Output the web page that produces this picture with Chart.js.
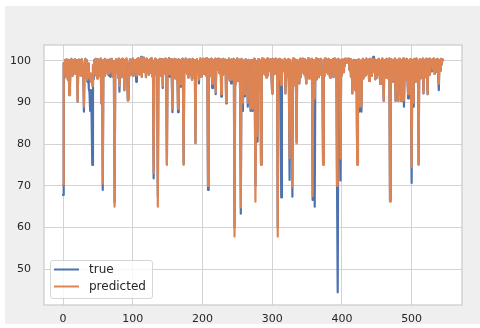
<!DOCTYPE html>
<html>
<head>
<meta charset="utf-8">
<script src="https://cdn.jsdelivr.net/npm/chart.js@4/dist/chart.umd.min.js"></script>
<style>
  html, body { margin: 0; padding: 0; background: #ffffff; }
  #wrap { position: relative; width: 480px; height: 328px; }
  canvas { display: block; }
</style>
</head>
<body>
<div id="wrap"><canvas id="c" width="480" height="328"></canvas></div>
<script>
const seriesNames = ['true', 'predicted'];
const xTicks = [0, 100, 200, 300, 400, 500];
const yTicks = [50, 60, 70, 80, 90, 100];

const trueVals = [
  67.8, 99.5, 95.8, 100.2, 96.5, 100.4, 97, 95.5, 100.3, 91.8,
  94, 99.8, 100.5, 96.5, 98.2, 100.1, 97.2, 100.4, 96.9, 100.2,
  99.5, 90.2, 99.8, 100.3, 96.6, 100, 96.5, 100.4, 97.2, 97.8,
  87.8, 99.6, 100.5, 96, 100.2, 95, 99.4, 93.4, 92.5, 88,
  93, 87, 75, 99, 95.6, 100.3, 96.7, 100.5, 97.2, 95.8,
  100.4, 96.3, 100.1, 97.2, 100.6, 89.8, 99.5, 69, 100.2, 96.4,
  100.5, 97.6, 99.9, 100.3, 96.8, 100.1, 96.5, 100.4, 96.2, 99.7,
  100.5, 96.2, 100, 97.1, 66, 99.8, 100.4, 97.5, 100.2, 96,
  100.6, 92.6, 99.6, 100.3, 96.1, 100.5, 97.4, 99.8, 93, 100.2,
  97.3, 100.6, 95.9, 90.5, 90.6, 99.7, 100.4, 96.6, 100.1, 97.5,
  100.6, 96.4, 100.2, 97.8, 99.9, 95, 100.4, 97, 100.7, 96.8,
  100.3, 97.6, 101, 96.2, 100.5, 97.4, 100.8, 97.4, 100.3, 96.1,
  100.6, 98.5, 100.2, 96.7, 97.6, 100.4, 97.2, 100.7, 96.3, 99.9,
  71.8, 99.4, 100.5, 96.8, 100.1, 97, 67.5, 100.3, 96.6, 100.5,
  96.5, 99.8, 100.4, 93.5, 100.2, 97.3, 97, 100.6, 96.1, 75.2,
  100.3, 97.5, 100.7, 96.2, 99.8, 100.4, 95.8, 87.7, 100.2, 96.1,
  100.5, 95.8, 99.7, 100.3, 97.2, 87.7, 100.4, 96.9, 100.1, 93.8,
  99.6, 100.5, 96.4, 75.3, 100.2, 97.4, 100.6, 97.7, 96.9, 100.3,
  96, 100.4, 96.8, 100.1, 97.3, 95.5, 100.5, 96, 99.7, 100.2,
  80.3, 99.8, 100.4, 97.5, 100, 94.6, 99.5, 100.6, 96.3, 100.2,
  97.1, 100.5, 96.9, 99.8, 100.3, 96.5, 100.7, 97.2, 69, 100.4,
  97.8, 100.1, 96.4, 100.6, 93.5, 99.7, 100.2, 96.4, 100.5, 92,
  99.6, 100.3, 98, 100.6, 97.1, 99.9, 100.4, 91.4, 100.1, 96.6,
  100.5, 97, 99.8, 100.3, 89.8, 100.2, 96.9, 96, 100.6, 95.3,
  100.1, 94.6, 100.4, 95.9, 99.7, 100.5, 60, 100.2, 94.4, 99.9,
  100.6, 95.2, 99.4, 100.3, 93.3, 63.3, 100.5, 94, 88, 100.1,
  96.6, 91.5, 100.4, 96, 99.8, 89, 100.3, 93.5, 93, 88,
  100.2, 95.4, 88, 99.6, 100.5, 94.2, 70, 99.9, 92.8, 80.6,
  100.4, 96.2, 93.6, 100.1, 75.2, 99.5, 100.6, 97.4, 100.5, 96.8,
  100.2, 97.4, 96, 100.6, 96.5, 99.9, 100.3, 97.6, 100.4, 96.1,
  92.2, 100.5, 96.7, 100.1, 97.6, 100.6, 96.9, 99.8, 60, 100.4,
  96.2, 100.5, 95.8, 67.2, 100.3, 97.5, 99.7, 98, 100.5, 92.2,
  100.1, 96.3, 99.6, 100.4, 93.8, 71.4, 100.2, 95, 99.5, 67.4,
  100.6, 95.9, 94.2, 100.3, 96.5, 80.5, 100.1, 96.6, 99.9, 94.6,
  100.5, 96.1, 100.2, 97.3, 100.6, 97.2, 96.8, 100.4, 96.6, 94.6,
  100.1, 97.5, 100.7, 95.8, 99.6, 100.3, 96.2, 100.5, 66.6, 99.7,
  100.2, 65, 99.4, 100.6, 95.6, 99.9, 100.4, 96.1, 100.2, 96.8,
  100.5, 97.2, 96.9, 75.3, 100.3, 96.4, 100.6, 97.3, 99.8, 100.1,
  96.9, 100.5, 97.4, 96, 100.2, 97.7, 99.6, 100.4, 96.1, 100.6,
  96.8, 99.7, 100.3, 71, 44.4, 100.5, 97.9, 99.8, 71.3, 100.2,
  96.5, 100.4, 97.3, 100.1, 98.8, 100.6, 100.4, 99.6, 100.5, 100.2,
  100.6, 97.8, 100.4, 96.2, 100.1, 92.2, 99.5, 100.3, 95.4, 93,
  100.2, 96.6, 75.3, 99.9, 100.4, 87.8, 96.5, 100.1, 87.8, 99.7,
  100.5, 95.8, 99.4, 100.2, 96.5, 100.6, 96.9, 97.8, 100.3, 95.2,
  100.5, 97.1, 100.2, 96.4, 100.6, 101, 97.3, 100.4, 95.6, 99.9,
  96, 100.3, 96.8, 100.5, 97.2, 94.5, 100.1, 95.4, 100.6, 97.5,
  90.4, 100.2, 96.1, 99.8, 100.5, 95.9, 100.3, 96.7, 100.6, 66.5,
  99.7, 100.4, 95.3, 95, 100.2, 96.9, 100.6, 90.4, 99.5, 100.3,
  95.9, 90.4, 100.5, 96.4, 99.9, 90.4, 100.2, 96.8, 100.6, 89,
  97.4, 100.3, 95.6, 100.5, 96.2, 91, 100.1, 97.6, 100.4, 95.5,
  70.7, 100.2, 89, 99.8, 100.5, 95, 97.3, 100.6, 96.4, 100.1,
  75.2, 99.7, 100.4, 95.8, 100.2, 97, 100.6, 92.2, 99.5, 100.3,
  96.1, 100.5, 97.2, 92, 100.4, 96.7, 100.6, 97.5, 100.2, 97.5,
  100.4, 97.8, 100.6, 96.9, 97.5, 100.3, 97.4, 100.5, 96.6, 93,
  100.2, 97.7, 100.5, 99.1, 100.4, 100.2
];

const predictedVals = [
  70.3, 99.5, 97, 100.2, 96.5, 100.4, 97, 95.5, 100.3, 91.8,
  94, 99.8, 100.5, 96.5, 98.2, 100.1, 97.2, 100.4, 96.9, 100.2,
  99.5, 90.2, 99.8, 100.3, 96.6, 100, 96.5, 100.4, 97.2, 97.8,
  89, 99.6, 100.5, 96, 100.2, 95.5, 99.4, 97, 96, 97,
  95, 96.5, 94, 99, 97, 100.3, 96.7, 100.5, 97.2, 95.8,
  100.4, 96.3, 100.1, 97.2, 100.6, 89.8, 99.5, 70.5, 100.2, 96.4,
  100.5, 97.6, 99.9, 100.3, 96.8, 100.1, 97, 100.4, 97.5, 99.7,
  100.5, 96.2, 100, 97.1, 65, 99.8, 100.4, 97.5, 100.2, 96,
  100.6, 94, 99.6, 100.3, 96.1, 100.5, 97.4, 99.8, 93, 100.2,
  97.3, 100.6, 95.9, 90.5, 91.5, 99.7, 100.4, 96.6, 100.1, 97.5,
  100.6, 96.4, 100.2, 97.8, 99.9, 96.5, 100.4, 97, 100.7, 96.8,
  100.3, 97.6, 100.8, 96.2, 100.5, 97.4, 100.8, 98.5, 100.3, 96.1,
  100.6, 98.5, 100.2, 96.7, 97.6, 100.4, 97.2, 100.7, 96.3, 99.9,
  73, 99.4, 100.5, 96.8, 100.1, 97, 65, 100.3, 96.6, 100.5,
  96.5, 99.8, 100.4, 94, 100.2, 97.3, 97, 100.6, 96.1, 75,
  100.3, 97.5, 100.7, 96.8, 99.8, 100.4, 95.8, 88.5, 100.2, 96.1,
  100.5, 95.8, 99.7, 100.3, 97.2, 88.5, 100.4, 96.9, 100.1, 94.3,
  99.6, 100.5, 96.4, 75, 100.2, 97.4, 100.6, 97.7, 96.9, 100.3,
  96, 100.4, 96.8, 100.1, 97.3, 95.5, 100.5, 96, 99.7, 100.2,
  80.2, 99.8, 100.4, 97.5, 100, 95.5, 99.5, 100.6, 96.3, 100.2,
  97.1, 100.5, 96.9, 99.8, 100.3, 96.5, 100.7, 97.2, 70, 100.4,
  97.8, 100.1, 96.4, 100.6, 94.5, 99.7, 100.2, 96.4, 100.5, 92.5,
  99.6, 100.3, 98, 100.6, 97.1, 99.9, 100.4, 92, 100.1, 96.6,
  100.5, 97, 99.8, 100.3, 90, 100.2, 96.9, 96, 100.6, 95.3,
  100.1, 95.5, 100.4, 95.9, 99.7, 100.5, 57.8, 100.2, 94.4, 99.9,
  100.6, 95.2, 99.4, 100.3, 93.3, 64.8, 100.5, 94, 90, 100.1,
  96.6, 92, 100.4, 96, 99.8, 90, 100.3, 93.5, 93, 88.5,
  100.2, 95.4, 88.5, 99.6, 100.5, 94.2, 66.2, 99.9, 92.8, 82,
  100.4, 96.2, 93.6, 100.1, 75, 99.5, 100.6, 97.4, 100.5, 96.8,
  100.2, 97.4, 96, 100.6, 96.5, 99.9, 100.3, 97.6, 100.4, 96.1,
  92.2, 100.5, 96.7, 100.1, 97.6, 100.6, 96.9, 99.8, 57.8, 100.4,
  96.2, 100.5, 95.8, 94.2, 100.3, 97.5, 99.7, 98, 100.5, 92.2,
  100.1, 96.3, 99.6, 100.4, 93.8, 76.7, 100.2, 95, 99.5, 69.8,
  100.6, 95.9, 94.2, 100.3, 96.5, 80.2, 100.1, 96.6, 99.9, 94.6,
  100.5, 96.1, 100.2, 97.3, 100.6, 97.2, 96.8, 100.4, 96.6, 94.6,
  100.1, 97.5, 100.7, 95.8, 99.6, 100.3, 96.2, 100.5, 67.5, 99.7,
  100.2, 91, 99.4, 100.6, 95.6, 99.9, 100.4, 96.1, 100.2, 96.8,
  100.5, 97.2, 96.9, 75, 100.3, 96.4, 100.6, 97.3, 99.8, 100.1,
  96.9, 100.5, 97.4, 96, 100.2, 97.7, 99.6, 100.4, 96.1, 100.6,
  96.8, 99.7, 100.3, 70, 95, 100.5, 97.9, 99.8, 76.5, 100.2,
  96.5, 100.4, 97.3, 100.1, 98.8, 100.6, 100.4, 99.6, 100.5, 100.2,
  100.6, 97.8, 100.4, 96.2, 100.1, 92.2, 99.5, 100.3, 95.4, 93,
  100.2, 96.6, 75, 99.9, 100.4, 89, 96.5, 100.1, 89, 99.7,
  100.5, 95.8, 99.4, 100.2, 96.5, 100.6, 96.9, 97.8, 100.3, 95.2,
  100.5, 97.1, 100.2, 96.4, 100.6, 99.5, 97.3, 100.4, 95.6, 99.9,
  96, 100.3, 96.8, 100.5, 97.2, 94.5, 100.1, 95.4, 100.6, 97.5,
  90.4, 100.2, 96.1, 99.8, 100.5, 95.9, 100.3, 96.7, 100.6, 66.2,
  99.7, 100.4, 95.3, 95, 100.2, 96.9, 100.6, 90.4, 99.5, 100.3,
  95.9, 90.4, 100.5, 96.4, 99.9, 90.4, 100.2, 96.8, 100.6, 90.5,
  97.4, 100.3, 95.6, 100.5, 96.2, 92, 100.1, 97.6, 100.4, 95.5,
  74.5, 100.2, 90, 99.8, 100.5, 95, 97.3, 100.6, 96.4, 100.1,
  75, 99.7, 100.4, 95.8, 100.2, 97, 100.6, 92.2, 99.5, 100.3,
  96.1, 100.5, 97.2, 92, 100.4, 96.7, 100.6, 97.5, 100.2, 99,
  100.4, 97.8, 100.6, 96.9, 99, 100.3, 97.4, 100.5, 96.6, 94.5,
  100.2, 97.7, 100.5, 99.1, 100.4, 100.2
];

const xIndex = trueVals.map((_, i) => i);

const FIG_BG = '#efefef';
const GRID = '#d3d3d3';
const EDGE = '#cccccc';
const TEXT = '#262626';
const FONT = 'DejaVu Sans';

const bgPlugin = {
  id: 'bg',
  beforeDraw(chart) {
    const { ctx, chartArea: a } = chart;
    ctx.save();
    ctx.fillStyle = '#ffffff';
    ctx.fillRect(0, 0, chart.width, chart.height);
    ctx.fillStyle = FIG_BG;
    ctx.fillRect(5, 6, chart.width - 5, 318);
    ctx.fillStyle = '#ffffff';
    ctx.fillRect(a.left, a.top, a.right - a.left, a.bottom - a.top);
    ctx.restore();
  },
  afterDraw(chart) {
    const { ctx, chartArea: a } = chart;
    ctx.save();
    ctx.strokeStyle = EDGE;
    ctx.lineWidth = 1.25;
    ctx.strokeRect(a.left, a.top, a.right - a.left, a.bottom - a.top);
    const x0 = 50.5, y0 = 260.5, w = 102, h = 38;
    ctx.fillStyle = 'rgba(255,255,255,0.8)';
    ctx.strokeStyle = 'rgba(204,204,204,0.8)';
    ctx.lineWidth = 1;
    ctx.beginPath();
    if (ctx.roundRect) ctx.roundRect(x0, y0, w, h, 2.5); else ctx.rect(x0, y0, w, h);
    ctx.fill();
    ctx.stroke();
    const ds = chart.data.datasets;
    const rows = [ds.find(d => d.label === seriesNames[0]), ds.find(d => d.label === seriesNames[1])];
    const ys = [269.5, 286.5];
    ctx.font = '12px "' + FONT + '"';
    ctx.textBaseline = 'middle';
    ctx.textAlign = 'left';
    rows.forEach((d, k) => {
      ctx.strokeStyle = d.borderColor;
      ctx.lineWidth = 2;
      ctx.beginPath();
      ctx.moveTo(54, ys[k]);
      ctx.lineTo(79, ys[k]);
      ctx.stroke();
      ctx.fillStyle = TEXT;
      ctx.fillText(d.label, 89, ys[k]);
    });
    ctx.restore();
  }
};

new Chart(document.getElementById('c'), {
  type: 'line',
  data: {
    labels: xIndex,
    datasets: [
      {
        label: seriesNames[0],
        data: trueVals,
        borderColor: '#4c72b0',
        borderWidth: 2.2,
        borderJoinStyle: 'round',
        borderCapStyle: 'round',
        pointRadius: 0,
        tension: 0,
        fill: false,
        order: 1
      },
      {
        label: seriesNames[1],
        data: predictedVals,
        borderColor: '#dd8452',
        borderWidth: 2.2,
        borderJoinStyle: 'round',
        borderCapStyle: 'round',
        pointRadius: 0,
        tension: 0,
        fill: false,
        order: 0
      }
    ]
  },
  options: {
    responsive: false,
    animation: false,
    devicePixelRatio: 1,
    layout: { padding: { left: 0, right: 18, top: 45, bottom: 0 } },
    plugins: { legend: { display: false }, tooltip: { enabled: false } },
    scales: {
      x: {
        type: 'linear',
        min: -27.25,
        max: 572.25,
        afterBuildTicks(s) { s.ticks = xTicks.map(v => ({ value: v })); },
        afterFit(s) { s.height = 23; },
        grid: { color: GRID, lineWidth: 1, drawTicks: false },
        border: { display: false },
        ticks: { color: TEXT, padding: 8, maxRotation: 0, font: { family: FONT, size: 11 } }
      },
      y: {
        type: 'linear',
        min: 41.36,
        max: 103.84,
        afterBuildTicks(s) { s.ticks = yTicks.map(v => ({ value: v })); },
        afterFit(s) { s.width = 44; },
        grid: { color: GRID, lineWidth: 1, drawTicks: false },
        border: { display: false },
        ticks: { color: TEXT, padding: 13, font: { family: FONT, size: 11 } }
      }
    }
  },
  plugins: [bgPlugin]
});
</script>
</body>
</html>
